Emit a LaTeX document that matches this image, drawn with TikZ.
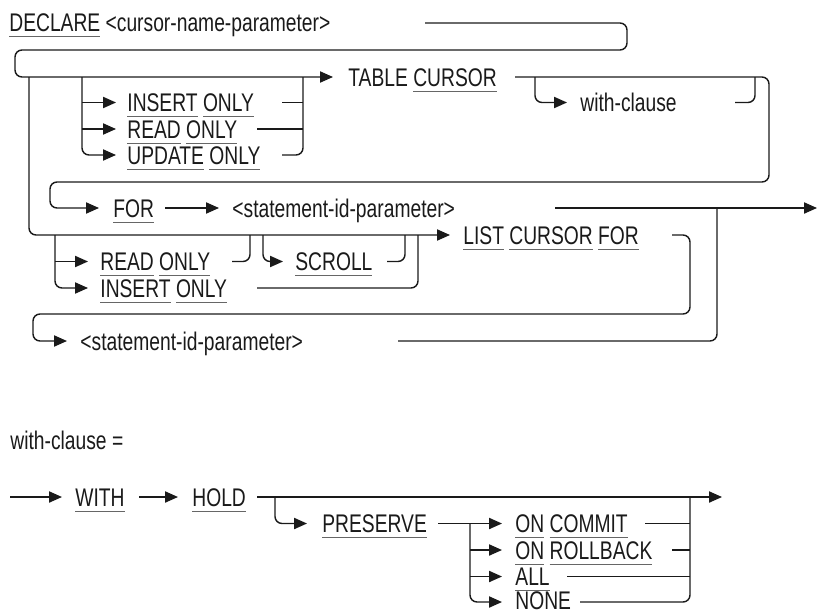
\documentclass[tikz,border=0pt]{standalone}
\usepackage{fontspec}
\setmainfont{Liberation Sans}[FakeStretch=0.755]
\usetikzlibrary{arrows.meta}
\definecolor{ink}{HTML}{1A1A1A}
\definecolor{ulc}{HTML}{666666}
\newcommand\ulw[1]{\setbox0\hbox{#1}\rlap{\textcolor{ulc}{\rule[-2.9pt]{\wd0}{0.65pt}}}#1}
\begin{document}
\begin{tikzpicture}[x=0.5pt,y=-0.5pt,
  line/.style={draw=ink, line width=0.72pt, rounded corners=3.5pt},
  arr/.style={line, -{Triangle[length=6.5pt,width=5.6pt]}},
  txt/.style={anchor=base west, inner sep=0pt, text=ink, font=\fontsize{12.75}{15}\selectfont}]
\useasboundingbox (0,0) rectangle (817,611);
% ---------- texts ----------
\node[txt] (declare) at (9,31.5) {\ulw{DECLARE} <cursor-name-parameter>};
\node[txt] (table) at (348,86) {TABLE \ulw{CURSOR}};
\node[txt] (withc) at (580,111) {with-clause};
\node[txt] (ins1) at (127,111.5) {\ulw{INSERT} \ulw{ONLY}};
\node[txt] (read1) at (127,138) {\ulw{READ} \ulw{ONLY}};
\node[txt] (upd1) at (127,164) {\ulw{UPDATE} \ulw{ONLY}};
\node[txt] (for) at (113,217) {\ulw{FOR}};
\node[txt] (stmt1) at (232,217) {<statement-id-parameter>};
\node[txt] (list) at (463,244) {\ulw{LIST} \ulw{CURSOR} \ulw{FOR}};
\node[txt] (read2) at (100,270.5) {\ulw{READ} \ulw{ONLY}};
\node[txt] (scroll) at (295,270.5) {\ulw{SCROLL}};
\node[txt] (ins2) at (100,297) {\ulw{INSERT} \ulw{ONLY}};
\node[txt] (stmt2) at (80,350) {<statement-id-parameter>};
\node[txt] (wcdef) at (10,449) {with-clause =};
\node[txt] (with) at (75,506) {\ulw{WITH}};
\node[txt] (hold) at (192,506) {\ulw{HOLD}};
\node[txt] (pres) at (322,532.5) {\ulw{PRESERVE}};
\node[txt] (oncommit) at (515,532.5) {\ulw{ON} \ulw{COMMIT}};
\node[txt] (onroll) at (515,559) {\ulw{ON} \ulw{ROLLBACK}};
\node[txt] (all) at (515,585.5) {\ulw{ALL}};
\node[txt] (none) at (515,609) {NONE};
% ---------- junction coordinates ----------
\coordinate (tabtip) at (333,77);
% ---------- main diagram ----------
\draw[arr] (425,23) -- (627,23) -- (627,50) -- (15,50) -- (15,77) -- (tabtip);
% INSERT/READ/UPDATE ONLY option
\draw[arr] (82,77) -- (82,155) -- (116,155);
\draw[arr] (82,102.5) -- (116,102.5);
\draw[arr] (82,129) -- (116,129);
\draw[line] (282,102.5) -- (303,102.5);
\draw[line] (257,129) -- (303,129);
\draw[line] (282,155) -- (303,155) -- (303,77);
% after TABLE CURSOR
\draw[arr] (515,77) -- (769,77) -- (769,182) -- (50,182) -- (50,208) -- (99,208);
\draw[arr] (535,77) -- (535,102.5) -- (567,102.5);
\draw[line] (735,102.5) -- (755,102.5) -- (755,77);
\draw[arr] (165,208) -- (219,208);
\draw[arr] (555,208) -- (817,208);
% LIST CURSOR branch
\draw[arr] (29,77) -- (29,235) -- (450,235);
\draw[arr] (55,235) -- (55,288) -- (88,288);
\draw[arr] (55,261.5) -- (88,261.5);
\draw[line] (232,261.5) -- (250,261.5) -- (250,235);
\draw[arr] (263,235) -- (263,261.5) -- (283,261.5);
\draw[line] (387,261.5) -- (405,261.5) -- (405,235);
\draw[line] (257,288) -- (418,288) -- (418,235);
\draw[arr] (672,235) -- (690,235) -- (690,314) -- (33,314) -- (33,341) -- (67,341);
\draw[line] (398,341) -- (717,341) -- (717,208);
% ---------- with-clause ----------
\draw[arr] (10,497) -- (62,497);
\draw[arr] (139,497) -- (178,497);
\draw[arr] (257,497) -- (722,497);
\draw[arr] (275,497) -- (275,523.5) -- (307,523.5);
\draw[arr] (438,523.5) -- (502,523.5);
\draw[arr] (470,523.5) -- (470,602) -- (502,602);
\draw[arr] (470,550) -- (502,550);
\draw[arr] (470,576.5) -- (502,576.5);
\draw[line] (645,523.5) -- (690,523.5);
\draw[line] (672,550) -- (690,550);
\draw[line] (567,576.5) -- (690,576.5);
\draw[line] (580,602) -- (690,602) -- (690,497);
\end{tikzpicture}
\end{document}
